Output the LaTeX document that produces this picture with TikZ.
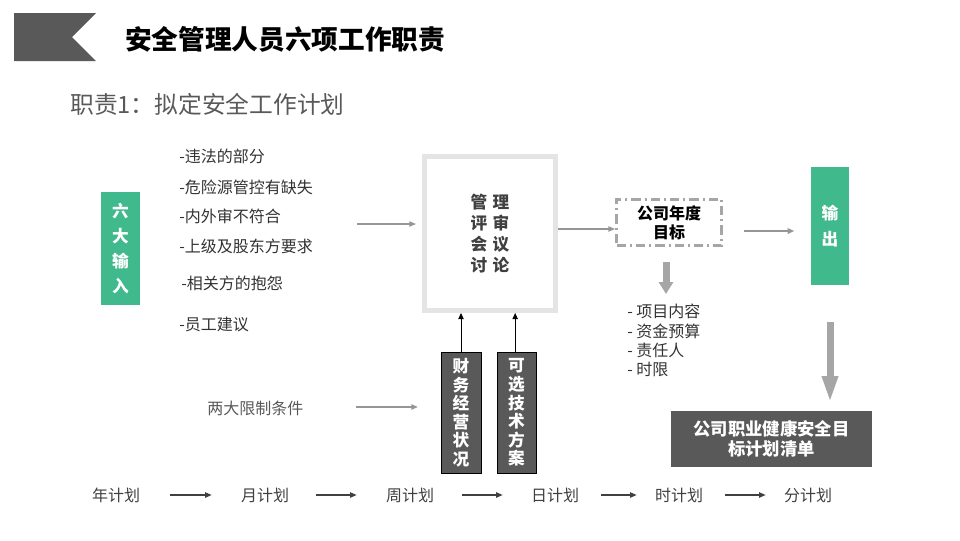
\documentclass[tikz,border=0pt]{standalone}
\usepackage{fontspec}
\setmainfont{Noto Sans CJK SC}
\usetikzlibrary{arrows.meta}

\definecolor{boxgreen}{RGB}{64,185,140}
\definecolor{darkbox}{RGB}{89,89,89}
\definecolor{lightframe}{RGB}{228,228,228}
\definecolor{dashgray}{RGB}{166,166,166}
\definecolor{linegray}{RGB}{150,150,150}
\definecolor{textdark}{RGB}{51,51,51}
\definecolor{textmid}{RGB}{64,64,64}

\begin{document}
\begin{tikzpicture}[x=0.75pt, y=-0.75pt,
  txt/.style={inner sep=0pt, anchor=west, text=textdark, font=\fontsize{12}{14}\selectfont},
  greenbox/.style={fill=boxgreen, text=white, inner sep=0pt, align=center,
    minimum width=29pt},
  darkbar/.style={fill=darkbox, draw=black, line width=0.6pt, text=white, inner sep=0pt,
    align=center, minimum height=90.75pt,
    font=\fontsize{12.5}{13.9}\selectfont\bfseries},
  thinarrow/.style={draw=linegray, line width=0.8pt, -{Triangle[length=5pt,width=4pt]}},
  fatarrow/.style={draw=dashgray, line width=5.25pt, -{Triangle[length=10pt,width=11pt]}},
  uparrow/.style={draw=black, line width=0.6pt, -{Triangle[length=4.5pt,width=4pt]}},
  planarrow/.style={draw=textmid, line width=1pt, -{Triangle[length=5pt,width=4pt]}}
]
\useasboundingbox (0,0) rectangle (960,540);

% =====================
% TITOLO
% =====================
\fill[darkbox] (14,13) -- (96,13) -- (72,37) -- (96,61) -- (14,61) -- cycle;
\node[anchor=west, inner sep=0pt, font=\fontsize{20}{24}\selectfont\bfseries] (title)
  at (125,39) {安全管理人员六项工作职责};
\node[anchor=west, inner sep=0pt, text=darkbox, font=\fontsize{17.8}{20}\selectfont] (subtitle)
  at (70,104) {职责1：拟定安全工作计划};

% =====================
% INGRESSI
% =====================
\node[greenbox, minimum height=84.75pt, font=\fontsize{12.5}{18.75}\selectfont\bfseries] (inputs)
  at (120.5,248.5) {六\\大\\输\\入};
\node[txt] (in1) at (179,156) {-违法的部分};
\node[txt] (in2) at (179,187) {-危险源管控有缺失};
\node[txt] (in3) at (179,216) {-内外审不符合};
\node[txt] (in4) at (179,246) {-上级及股东方要求};
\node[txt] (in5) at (181,283) {-相关方的抱怨};
\node[txt] (in6) at (179,324) {-员工建议};

% =====================
% RIUNIONE
% =====================
\node[draw=lightframe, line width=3.75pt, minimum width=98.25pt, minimum height=115.5pt,
  text=textmid, align=center, font=\fontsize{12.5}{15.75}\selectfont\bfseries] (meet)
  at (490,233.5) {管\hspace{4pt}理\\评\hspace{4pt}审\\会\hspace{4pt}议\\讨\hspace{4pt}论};
\coordinate (inTail) at (357,224);
\draw[thinarrow, shorten >=4.5pt] (inTail) -- (inTail -| meet.west);

% =====================
% OBIETTIVO E USCITA
% =====================
\node[draw=dashgray, line width=2.25pt, dash pattern=on 7pt off 3pt on 1.5pt off 3pt,
  minimum width=78.75pt, minimum height=34.5pt, align=center,
  font=\fontsize{12}{14.25}\selectfont\bfseries] (goal)
  at (669,222.5) {公司年度\\目标};
\draw[thinarrow] ([yshift=3.4pt]meet.east) -- ([yshift=3.4pt]meet.east -| goal.west);

\node[greenbox, minimum height=88.5pt, font=\fontsize{12.5}{20}\selectfont\bfseries] (output)
  at (830,226) {输\\出};
\draw[thinarrow, line width=1.5pt, shorten <=15.4pt, shorten >=12pt]
  ([yshift=-6.4pt]goal.east) -- ([yshift=-6.4pt]goal.east -| output.west);

\coordinate (goalTip) at (666,294);
\draw[fatarrow, -{Triangle[length=9pt,width=10.5pt]}, shorten <=11pt]
  ([xshift=-2.25pt]goal.south) -- (goalTip);

\node[txt] (k1) at (627,311) {- 项目内容};
\node[txt] (k2) at (627,331) {- 资金预算};
\node[txt] (k3) at (627,350) {- 责任人};
\node[txt] (k4) at (627,369) {- 时限};

\node[fill=darkbox, text=white, inner sep=0pt, minimum width=150.75pt, minimum height=42pt,
  align=center, font=\fontsize{13}{15}\selectfont\bfseries] (target)
  at (771.5,439) {公司职业健康安全目\\标计划清单};
\draw[fatarrow, -{Triangle[length=20pt,width=11pt]}, shorten <=27.75pt, shorten >=6pt]
  (output.south) -- (output.south |- target.north);

% =====================
% VINCOLI
% =====================
\node[txt, text=darkbox] (limits) at (207,408) {两大限制条件};
\node[darkbar, minimum width=30pt] (finance) at (461,412.5) {财\\务\\经\\营\\状\\况};
\node[darkbar, minimum width=29.25pt] (tech) at (516.5,412.5) {可\\选\\技\\术\\方\\案};
\coordinate (limTail) at (356,407);
\draw[thinarrow, line width=1.2pt, shorten >=17pt] (limTail) -- (limTail -| finance.west);
\draw[uparrow] (finance.north) -- (finance.north |- meet.south);
\draw[uparrow] ([xshift=-1pt]tech.north) -- ([xshift=-1pt]tech.north |- meet.south);

% =====================
% PIANI
% =====================
\node[txt, anchor=center, text=textmid] (p1) at (116,495) {年计划};
\node[txt, anchor=center, text=textmid] (p2) at (265,495) {月计划};
\node[txt, anchor=center, text=textmid] (p3) at (410,495) {周计划};
\node[txt, anchor=center, text=textmid] (p4) at (555,495) {日计划};
\node[txt, anchor=center, text=textmid] (p5) at (679,495) {时计划};
\node[txt, anchor=center, text=textmid] (p6) at (808,495) {分计划};
\foreach \a/\b/\l/\r in {p1/p2/22.5/21.75, p2/p3/20.25/21.75, p3/p4/21/21,
                         p4/p5/16.5/13.5, p5/p6/16.5/13.5}
  \draw[planarrow, shorten <=\l pt, shorten >=\r pt] (\a) -- (\b);

\end{tikzpicture}
\end{document}
